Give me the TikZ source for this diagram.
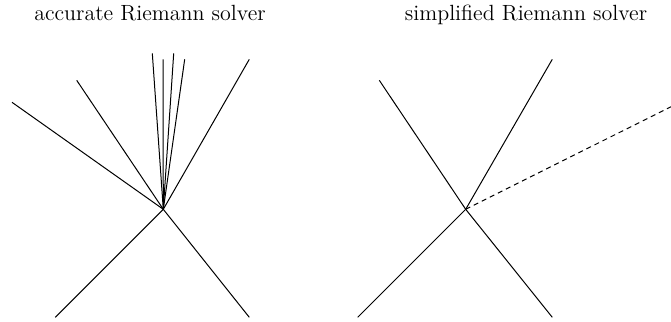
\documentclass[tikz,border=0pt]{standalone}
\usetikzlibrary{scopes}

\begin{document}
\begin{tikzpicture}[x=0.5pt,y=-0.5pt,
		wave/.style={black, line width=0.5pt},
		fakewave/.style={wave, dashed, dash pattern=on 2.5pt off 2pt},
		title/.style={anchor=base, inner sep=0pt, font=\fontsize{11}{13}\selectfont}]
		\useasboundingbox (0,0) rectangle (671,322);
		% accurate solver
		\node[title] (tacc) at (150,20) {accurate Riemann solver};
		\coordinate (oacc) at (163.3,209.3);
		\coordinate (a1) at (12,102.3);
		\coordinate (a2) at (76.7,80.3);
		\coordinate (a3) at (152.3,53.3);
		\coordinate (a4) at (163,59.3);
		\coordinate (a5) at (173.7,53.3);
		\coordinate (a6) at (184.7,59.3);
		\coordinate (a7) at (249.3,59.3);
		\coordinate (a8) at (55.3,317.3);
		\coordinate (a9) at (249.3,317.3);
		\begin{scope}[wave]
			\foreach \p in {a1,a2,a3,a4,a5,a6,a7,a8,a9}
				\draw (oacc) -- (\p);
		\end{scope}
		% simplified solver
		\node[title] (tsim) at (526,20) {simplified Riemann solver};
		\coordinate (osim) at (465.7,209.3);
		\coordinate (s1) at (379.3,80.3);
		\coordinate (s2) at (552.3,59.3);
		\coordinate (s3) at (357.7,317.3);
		\coordinate (s4) at (552.3,317.3);
		\coordinate (s5) at (671,106.7);
		\begin{scope}[wave]
			\foreach \p in {s1,s2,s3,s4}
				\draw (osim) -- (\p);
		\end{scope}
		\draw[fakewave] (osim) -- (s5);
	\end{tikzpicture}
\end{document}
